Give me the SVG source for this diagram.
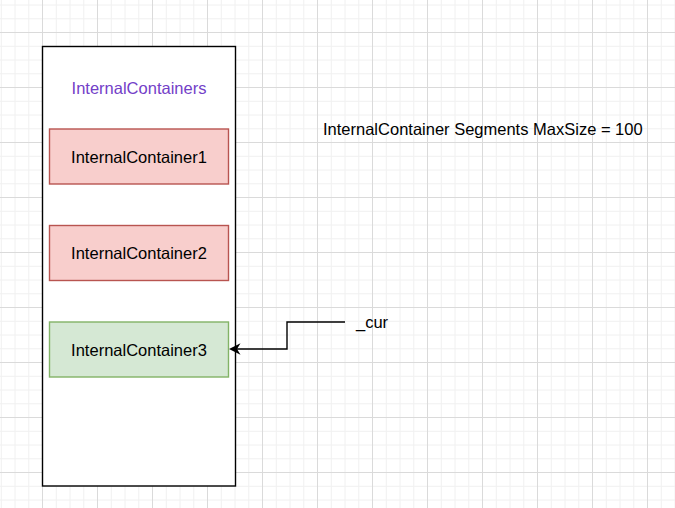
<svg xmlns="http://www.w3.org/2000/svg" width="675" height="508" viewBox="0 0 675 508">
  <defs>
    <style>
      .lbl { font-family: "Liberation Sans", Arial, sans-serif; font-size: 16.5px; fill: #000000; }
      .mid { text-anchor: middle; }
      .red { fill: #f8cecc; stroke: #b85450; stroke-width: 1.4; }
      .green { fill: #d5e8d4; stroke: #82b366; stroke-width: 1.4; }
      .edge { fill: none; stroke: #000000; stroke-width: 1.4; }
      .minor { stroke: #f0f0f0; stroke-width: 1; }
      .major { stroke: #dadada; stroke-width: 1; }
    </style>
    <pattern id="grid" x="42" y="32" width="55" height="55" patternUnits="userSpaceOnUse">
      <path class="minor" d="M14.25,0 V55 M28,0 V55 M41.75,0 V55 M0,14.25 H55 M0,28 H55 M0,41.75 H55"/>
      <path class="major" d="M0.5,0 V55 M0,0.5 H55"/>
    </pattern>
    <marker id="arrow" viewBox="0 0 12 12" markerWidth="12" markerHeight="12" refX="3.5" refY="6" orient="auto" markerUnits="userSpaceOnUse">
      <path d="M0,0.3 L11.5,6 L0,11.7 L3.5,6 Z" fill="#000000"/>
    </marker>
  </defs>
  <rect x="0" y="0" width="675" height="508" fill="#ffffff"/>
  <rect x="0" y="0" width="675" height="508" fill="url(#grid)"/>

  <g id="container">
    <rect x="42.5" y="46.5" width="193" height="439.5" fill="#ffffff" stroke="#000000" stroke-width="1.4"/>
    <text class="lbl mid" x="139" y="93.5" style="fill:#7340c8">InternalContainers</text>
  </g>
  <g id="ic1">
    <rect class="red" x="49.5" y="129" width="179" height="55"/>
    <text class="lbl mid" x="139" y="162.5">InternalContainer1</text>
  </g>
  <g id="ic2">
    <rect class="red" x="49.5" y="225.5" width="179" height="55"/>
    <text class="lbl mid" x="139" y="259">InternalContainer2</text>
  </g>
  <g id="ic3">
    <rect class="green" x="49.5" y="322" width="179" height="55"/>
    <text class="lbl mid" x="139" y="355.5">InternalContainer3</text>
  </g>
  <g id="note">
    <text class="lbl" x="323" y="134.5">InternalContainer Segments MaxSize = 100</text>
  </g>
  <g id="cur">
    <text class="lbl" x="356" y="327.5">_cur</text>
  </g>
  <g id="connectors">
    <path class="edge" d="M345,322 H287 V349 H237" marker-end="url(#arrow)"/>
  </g>
</svg>
